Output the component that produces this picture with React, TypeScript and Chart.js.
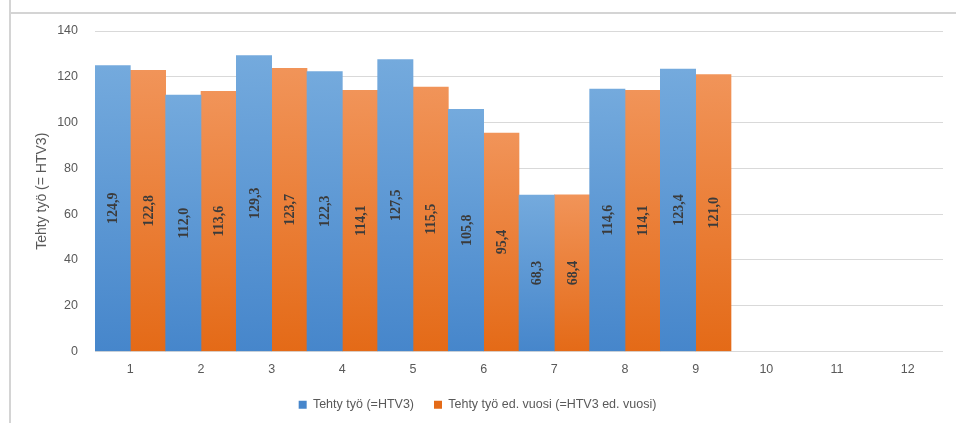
import React, { useEffect, useRef } from "react";
import { Chart, registerables } from "chart.js";

Chart.register(...registerables);

const categories = ["1", "2", "3", "4", "5", "6", "7", "8", "9", "10", "11", "12"];
const seriesNames = ["Tehty työ (=HTV3)", "Tehty työ ed. vuosi (=HTV3 ed. vuosi)"];
const currentYear: (number | null)[] = [124.9, 112.0, 129.3, 122.3, 127.5, 105.8, 68.3, 114.6, 123.4, null, null, null];
const previousYear: (number | null)[] = [122.8, 113.6, 123.7, 114.1, 115.5, 95.4, 68.4, 114.1, 121.0, null, null, null];
const yAxisTitle = "Tehty työ (= HTV3)";
const yMin = 0;
const yMax = 140;
const yStep = 20;

const blueTop = "#74aadd";
const blueBottom = "#4686cb";
const blueMid = "#5b9bd5";
const orangeTop = "#f19459";
const orangeBottom = "#e46a17";
const orangeMid = "#ed7d31";

function gradientFill(top: string, bottom: string, mid: string) {
  return (ctx: any) => {
    if (ctx.type !== "data") return mid;
    const chart = ctx.chart;
    const y = chart.scales && chart.scales.y;
    const v = ctx.raw;
    if (!y || v == null || !chart.chartArea) return mid;
    const pTop = y.getPixelForValue(v);
    const pBot = y.getPixelForValue(0);
    if (!isFinite(pTop) || !isFinite(pBot) || pTop === pBot) return mid;
    const g = chart.ctx.createLinearGradient(0, pTop, 0, pBot);
    g.addColorStop(0, top);
    g.addColorStop(1, bottom);
    return g;
  };
}

const valueLabels = {
  id: "valueLabels",
  afterDatasetsDraw(chart: any) {
    const c = chart.ctx;
    c.save();
    c.font = "bold 14px 'Liberation Serif', serif";
    c.fillStyle = "#3b3b3b";
    c.textAlign = "center";
    c.textBaseline = "middle";
    chart.data.datasets.forEach((ds: any, di: number) => {
      const meta = chart.getDatasetMeta(di);
      meta.data.forEach((el: any, i: number) => {
        const v = ds.data[i];
        if (v == null) return;
        const cy = (el.y + el.base) / 2;
        c.save();
        c.translate(el.x, cy);
        c.rotate(-Math.PI / 2);
        c.fillText(v.toFixed(1).replace(".", ","), 0, 1);
        c.restore();
      });
    });
    c.restore();
  },
};

export default function App() {
  const ref = useRef<HTMLCanvasElement>(null);

  useEffect(() => {
    if (!ref.current) return;
    const tickFont = { family: "'Liberation Sans', Arial, sans-serif", size: 12.5 };
    const titleFont = { family: "'Liberation Sans', Arial, sans-serif", size: 14 };
    const chart = new Chart(ref.current, {
      type: "bar",
      data: {
        labels: categories,
        datasets: [
          {
            label: seriesNames[0],
            data: currentYear,
            backgroundColor: gradientFill(blueTop, blueBottom, blueMid) as any,
            borderWidth: 0,
            barPercentage: 1,
            categoryPercentage: 1,
          },
          {
            label: seriesNames[1],
            data: previousYear,
            backgroundColor: gradientFill(orangeTop, orangeBottom, orangeMid) as any,
            borderWidth: 0,
            barPercentage: 1,
            categoryPercentage: 1,
          },
        ],
      },
      options: {
        animation: false,
        responsive: true,
        maintainAspectRatio: false,
        layout: { padding: { left: 12, right: 13, top: 31, bottom: 2 } },
        plugins: {
          tooltip: { enabled: false },
          legend: {
            position: "bottom",
            labels: {
              boxWidth: 8,
              boxHeight: 8,
              padding: 20,
              color: "#595959",
              font: tickFont,
            },
          },
        },
        scales: {
          x: {
            grid: { display: false, drawTicks: false },
            border: { display: false },
            ticks: { color: "#595959", font: tickFont, padding: 11 },
            afterFit: (s: any) => {
              s.height = 27;
            },
          },
          y: {
            min: yMin,
            max: yMax,
            ticks: { stepSize: yStep, color: "#595959", font: tickFont, padding: 17 },
            grid: { color: "#d9d9d9", drawTicks: false, lineWidth: 1 },
            border: { display: false },
            title: {
              display: true,
              text: yAxisTitle,
              color: "#595959",
              font: titleFont,
              padding: { top: 22, bottom: 0 },
            },
            afterFit: (s: any) => {
              s.width = 83;
            },
          },
        },
      },
      plugins: [valueLabels],
    });
    return () => chart.destroy();
  }, []);

  return (
    <div style={{ position: "fixed", left: 0, top: 0, width: 956, height: 423, background: "#fff" }}>
      <canvas ref={ref} />
      <div style={{ position: "absolute", left: 9, top: 0, width: 2, height: 423, background: "#d4d4d4" }} />
      <div style={{ position: "absolute", left: 9, top: 12, width: 947, height: 2, background: "#d4d4d4" }} />
    </div>
  );
}
